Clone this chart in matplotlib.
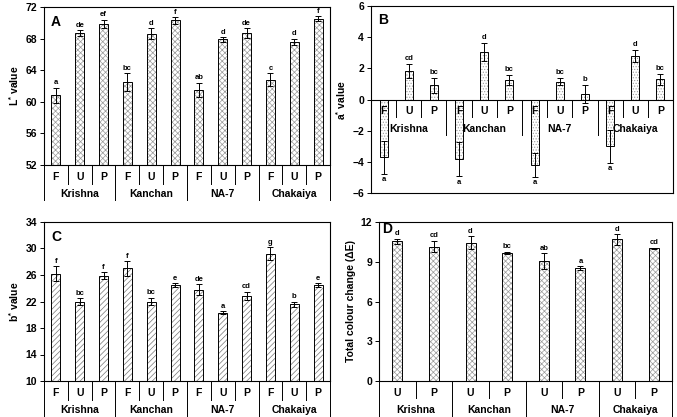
import numpy as np
import matplotlib
matplotlib.use("Agg")
import matplotlib.pyplot as plt
from matplotlib import transforms

plt.rcParams['font.family'] = ['Liberation Sans', 'DejaVu Sans']
plt.rcParams['font.weight'] = 'bold'
plt.rcParams['mathtext.fontset'] = 'custom'
plt.rcParams['mathtext.rm'] = 'Liberation Sans:bold'
plt.rcParams['mathtext.bf'] = 'Liberation Sans:bold'
plt.rcParams['hatch.linewidth'] = 0.5

groups = ["Krishna", "Kanchan", "NA-7", "Chakaiya"]
treat3 = ["F", "U", "P"]
treat2 = ["U", "P"]

# L* values
L_val = [60.8, 68.7, 69.9, 62.5, 68.6, 70.3, 61.5, 67.9, 68.7, 62.8, 67.6, 70.5]
L_err = [1.0, 0.4, 0.5, 1.1, 0.7, 0.4, 0.9, 0.3, 0.6, 0.8, 0.4, 0.3]
L_sig = ["a", "de", "ef", "bc", "d", "f", "ab", "d", "de", "c", "d", "f"]

# a* values
a_val = [-3.7, 1.85, 0.9, -3.8, 3.05, 1.25, -4.2, 1.15, 0.35, -3.0, 2.8, 1.3]
a_err = [1.05, 0.45, 0.5, 1.1, 0.6, 0.35, 0.75, 0.25, 0.6, 1.05, 0.4, 0.35]
a_sig = ["a", "cd", "bc", "a", "d", "bc", "a", "bc", "b", "a", "d", "bc"]

# b* values
b_val = [26.2, 22.0, 25.9, 27.0, 22.0, 24.5, 23.8, 20.3, 22.9, 29.2, 21.6, 24.5]
b_err = [1.1, 0.5, 0.5, 1.1, 0.6, 0.3, 0.8, 0.2, 0.6, 1.0, 0.4, 0.3]
b_sig = ["f", "bc", "f", "f", "bc", "e", "de", "a", "cd", "g", "b", "e"]

# total colour change
dE_val = [10.55, 10.15, 10.45, 9.65, 9.05, 8.5, 10.7, 10.0]
dE_err = [0.2, 0.45, 0.5, 0.1, 0.6, 0.15, 0.4, 0.05]
dE_sig = ["d", "cd", "d", "bc", "ab", "a", "d", "cd"]

W, H = 677, 417
fig = plt.figure(figsize=(W / 100, H / 100), dpi=100)


def make_axes(l, t, r, b):
    return fig.add_axes([l / W, (H - b) / H, (r - l) / W, (b - t) / H])


def bars(ax, vals, errs, sigs, width, hatch, hcol, below_neg=False):
    x = np.arange(len(vals))
    ax.bar(x, vals, width, color="white", edgecolor=hcol, hatch=hatch, linewidth=0, zorder=2)
    ax.bar(x, vals, width, fill=False, edgecolor="black", linewidth=0.7, zorder=3)
    ax.errorbar(x, vals, yerr=errs, fmt="none", ecolor="black", elinewidth=0.7,
                capsize=2, capthick=0.7, zorder=4)
    for xi, v, e, s in zip(x, vals, errs, sigs):
        if below_neg and v < 0:
            ax.annotate(s, (xi, v - e), xytext=(0, -2), textcoords="offset points",
                        ha="center", va="top", fontsize=5.5, fontweight="bold")
        else:
            ax.annotate(s, (xi, v + e), xytext=(0, 1), textcoords="offset points",
                        ha="center", va="bottom", fontsize=5.5, fontweight="bold")
    ax.set_xlim(-0.5, len(vals) - 0.5)
    ax.set_xticks([])
    ax.tick_params(axis="y", direction="out", length=3, width=0.7, labelsize=7.5, pad=2)
    for sp in ax.spines.values():
        sp.set_linewidth(0.8)


def below_labels(ax, treats, lab_px, grp_px, minor_px, major_px, base=None):
    n = len(treats)
    tot = n * len(groups)
    if base is None:
        trans = transforms.blended_transform_factory(ax.transData, ax.transAxes)
        y0 = 0.0
    else:
        trans = ax.transData
        y0 = base
    off = lambda px: transforms.offset_copy(trans, fig=fig, x=0, y=-px * 0.72, units="points")
    for i in range(tot):
        ax.text(i, y0, treats[i % n], transform=off(lab_px), ha="center", va="center",
                fontsize=7.5, fontweight="bold")
    for g, name in enumerate(groups):
        ax.text(g * n + (n - 1) / 2, y0, name, transform=off(grp_px), ha="center",
                va="center", fontsize=7.5, fontweight="bold")
    # separator lines under the axis
    for k in range(tot + 1):
        xs = k - 0.5
        depth = major_px if k % n == 0 else minor_px
        if base is not None and k in (0, tot):
            continue
        p0 = trans.transform((xs, y0))
        p1 = off(depth).transform((xs, y0))
        fig.add_artist(plt.Line2D([p0[0] / W, p1[0] / W], [p0[1] / H, p1[1] / H],
                                  color="black", lw=0.7, transform=fig.transFigure))


# Panel A
axA = make_axes(44, 7, 330, 165)
bars(axA, L_val, L_err, L_sig, 0.38, "xxxxxx", "#9a9a9a")
axA.set_ylim(52, 72)
axA.set_yticks(np.arange(52, 73, 4))
axA.set_ylabel(r"L$^{*}$ value", fontsize=7.5, fontweight="bold", labelpad=3)
axA.text(0.025, 0.95, "A", transform=axA.transAxes, fontsize=10, fontweight="bold",
         va="top", ha="left")

# Panel B
axB = make_axes(371, 6, 673, 193)
bars(axB, a_val, a_err, a_sig, 0.32, "......", "#9a9a9a", below_neg=True)
axB.set_ylim(-6, 6)
axB.set_yticks(np.arange(-6, 7, 2))
axB.axhline(0, color="black", lw=0.8, zorder=5)
axB.set_ylabel(r"a$^{*}$ value", fontsize=7.5, fontweight="bold", labelpad=3)
axB.text(0.025, 0.96, "B", transform=axB.transAxes, fontsize=10, fontweight="bold",
         va="top", ha="left")

# Panel C
axC = make_axes(44, 222, 330, 381)
bars(axC, b_val, b_err, b_sig, 0.38, "//////", "#777777")
axC.set_ylim(10, 34)
axC.set_yticks(np.arange(10, 35, 4))
axC.set_ylabel(r"b$^{*}$ value", fontsize=7.5, fontweight="bold", labelpad=3)
axC.text(0.025, 0.95, "C", transform=axC.transAxes, fontsize=10, fontweight="bold",
         va="top", ha="left")

# Panel D
axD = make_axes(379, 222, 672, 381)
bars(axD, dE_val, dE_err, dE_sig, 0.27, "xxxxxx", "#9a9a9a")
axD.set_ylim(0, 12)
axD.set_yticks(np.arange(0, 13, 3))
axD.set_ylabel("Total colour change (ΔE)", fontsize=7.5, fontweight="bold", labelpad=3)
axD.text(0.01, 1.0, "D", transform=axD.transAxes, fontsize=10, fontweight="bold",
         va="top", ha="left")

fig.canvas.draw()
below_labels(axA, treat3, 12, 29, 19, 35)
below_labels(axC, treat3, 12, 29, 19, 36)
below_labels(axD, treat2, 12, 29, 17, 36)
below_labels(axB, treat3, 12, 30, 17, 35, base=0.0)

fig.savefig("out.png", dpi=100)
